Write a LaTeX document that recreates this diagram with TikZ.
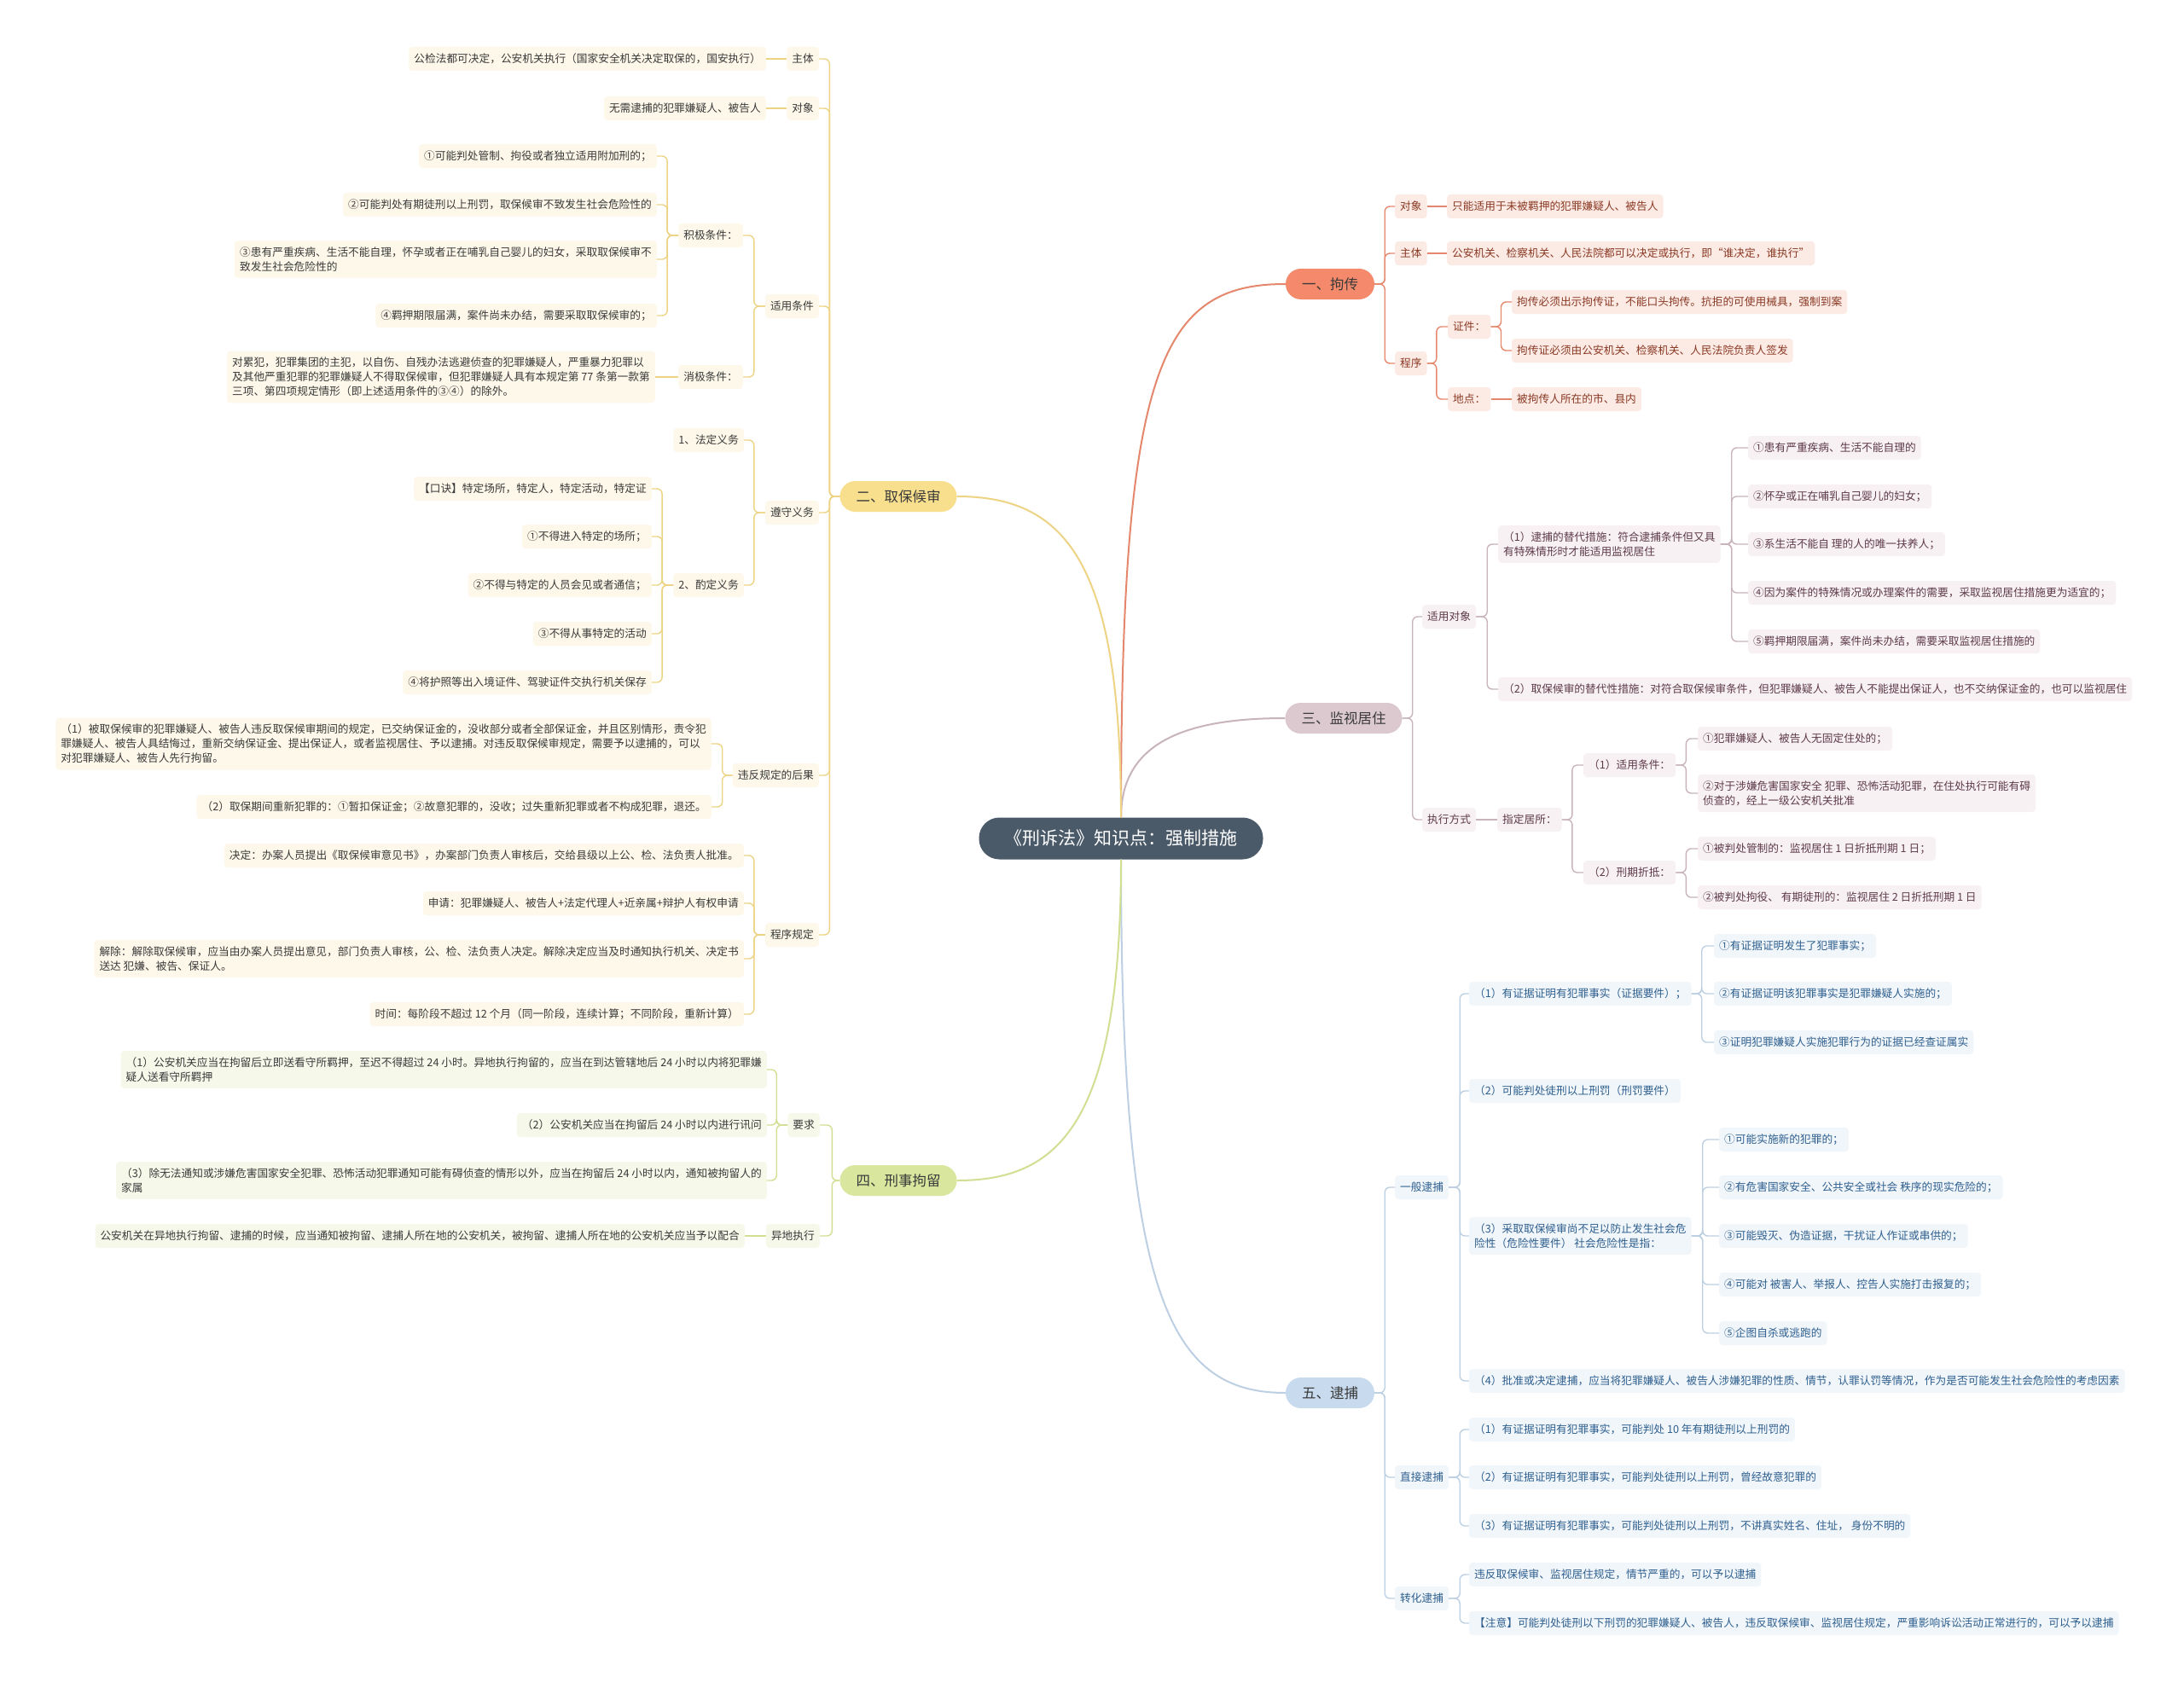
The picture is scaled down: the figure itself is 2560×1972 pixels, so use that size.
\documentclass[tikz,border=0pt]{standalone}
\usepackage{fontspec}
\newfontfamily\cjk{Noto Sans CJK SC}
\usepackage{tikz}

\definecolor{rootfill}{HTML}{4B5A69}
\definecolor{jcfill}{HTML}{F4896B}
\definecolor{jcline}{HTML}{E5876C}
\definecolor{jcleaf}{HTML}{FCEAE5}
\definecolor{jctext}{HTML}{8A3A24}
\definecolor{jsfill}{HTML}{DCC9CF}
\definecolor{jsline}{HTML}{C9B4BC}
\definecolor{jsleaf}{HTML}{F7F1F3}
\definecolor{jstext}{HTML}{5E3A4A}
\definecolor{dbfill}{HTML}{C8DBEE}
\definecolor{dbline}{HTML}{BDD0E3}
\definecolor{dbleaf}{HTML}{F1F6FB}
\definecolor{dbtext}{HTML}{2E5F8E}
\definecolor{qbfill}{HTML}{F8DF8E}
\definecolor{qbline}{HTML}{EDD484}
\definecolor{qbleaf}{HTML}{FDF8E9}
\definecolor{jlfill}{HTML}{D8E69E}
\definecolor{jlline}{HTML}{D0DF92}
\definecolor{jlleaf}{HTML}{F6F9EA}
\definecolor{leaftext}{HTML}{3A3A3A}

\tikzset{
	nodebase/.style={font=\cjk\fontsize{12.7}{17}\selectfont, rounded corners=4pt,
		inner xsep=6pt, inner ysep=7.5pt, minimum height=28pt, align=left},
	mainbase/.style={font=\cjk\fontsize{16.5}{20}\selectfont, rounded corners=18pt,
		inner xsep=19pt, minimum height=36pt, text=leaftext},
	jcbox/.style={nodebase, fill=jcleaf, text=jctext},
	jsbox/.style={nodebase, fill=jsleaf, text=jstext},
	dbbox/.style={nodebase, fill=dbleaf, text=dbtext},
	qbbox/.style={nodebase, fill=qbleaf, text=leaftext},
	jlbox/.style={nodebase, fill=jlleaf, text=leaftext},
	link/.style={line width=1.4pt, rounded corners=6pt},
	branch/.style={line width=2pt}
}

\begin{document}
\begin{tikzpicture}[x=1pt, y=-1pt]
	\fill[white] (0,0) rectangle (2560,1972);
	\useasboundingbox (0,0) rectangle (2560,1972);

	% root
	\node[font=\cjk\fontsize{21}{24}\selectfont, fill=rootfill, text=white,
		rounded corners=24pt, minimum height=49pt, inner xsep=30pt] (root) at (1314,983)
		{《刑诉法》知识点：强制措施};

	% main topics
	\node[mainbase, fill=jcfill] (jc) at (1559,333) {一、拘传};
	\node[mainbase, fill=jsfill] (js) at (1575,842) {三、监视居住};
	\node[mainbase, fill=dbfill] (db) at (1559,1633) {五、逮捕};
	\node[mainbase, fill=qbfill] (qb) at (1053,582) {二、取保候审};
	\node[mainbase, fill=jlfill] (jl) at (1053,1384) {四、刑事拘留};

	\draw[branch, jcline] (root.north) .. controls (1314,430) and (1360,333) .. (jc.west);
	\draw[branch, jsline] (root.north) .. controls (1314,870) and (1390,842) .. (js.west);
	\draw[branch, dbline] (root.south) .. controls (1314,1520) and (1370,1633) .. (db.west);
	\draw[branch, qbline] (root.north) .. controls (1314,660) and (1250,582) .. (qb.east);
	\draw[branch, jlline] (root.south) .. controls (1314,1320) and (1240,1384) .. (jl.east);

	% 一、拘传
	\node[jcbox, anchor=west] (jcdx) at (1635,242) {对象};
	\node[jcbox, anchor=west] (jczt) at (1635,297) {主体};
	\node[jcbox, anchor=west] (jccx) at (1635,426) {程序};
	\node[jcbox, anchor=west] (jcdxa) at (1696,242) {只能适用于未被羁押的犯罪嫌疑人、被告人};
	\node[jcbox, anchor=west] (jczta) at (1696,297) {公安机关、检察机关、人民法院都可以决定或执行，即“谁决定，谁执行”};
	\node[jcbox, anchor=west] (jczj) at (1697,383) {证件：};
	\node[jcbox, anchor=west] (jcdd) at (1697,468) {地点：};
	\node[jcbox, anchor=west] (jczja) at (1772,354) {拘传必须出示拘传证，不能口头拘传。抗拒的可使用械具，强制到案};
	\node[jcbox, anchor=west] (jczjb) at (1772,411) {拘传证必须由公安机关、检察机关、人民法院负责人签发};
	\node[jcbox, anchor=west] (jcdda) at (1772,468) {被拘传人所在的市、县内};

	\foreach \c in {jcdx,jczt,jccx}
		\draw[link, jcline] (jc.east) -- ++(12,0) |- (\c.west);
	\foreach \c in {jczj,jcdd}
		\draw[link, jcline] (jccx.east) -- ++(11,0) |- (\c.west);
	\foreach \c in {jczja,jczjb}
		\draw[link, jcline] (jczj.east) -- ++(12,0) |- (\c.west);
	\draw[link, jcline] (jcdx) -- (jcdxa);
	\draw[link, jcline] (jczt) -- (jczta);
	\draw[link, jcline] (jcdd) -- (jcdda);

	% 三、监视居住
	\node[jsbox, anchor=west] (jsdx) at (1667,723) {适用对象};
	\node[jsbox, anchor=west] (jsfs) at (1667,961) {执行方式};
	\node[jsbox, anchor=west] (jsdx1) at (1756,638) {（1）逮捕的替代措施：符合逮捕条件但又具\\有特殊情形时才能适用监视居住};
	\node[jsbox, anchor=west] (jsdx2) at (1756,808) {（2）取保候审的替代性措施：对符合取保候审条件，但犯罪嫌疑人、被告人不能提出保证人，也不交纳保证金的，也可以监视居住};
	\node[jsbox, anchor=west] (jsa1) at (2049,525) {①患有严重疾病、生活不能自理的};
	\node[jsbox, anchor=west] (jsa2) at (2049,582) {②怀孕或正在哺乳自己婴儿的妇女；};
	\node[jsbox, anchor=west] (jsa3) at (2049,638) {③系生活不能自 理的人的唯一扶养人；};
	\node[jsbox, anchor=west] (jsa4) at (2049,695) {④因为案件的特殊情况或办理案件的需要，采取监视居住措施更为适宜的；};
	\node[jsbox, anchor=west] (jsa5) at (2049,752) {⑤羁押期限届满，案件尚未办结，需要采取监视居住措施的};
	\node[jsbox, anchor=west] (jszd) at (1755,961) {指定居所：};
	\node[jsbox, anchor=west] (jstj) at (1856,897) {（1）适用条件：};
	\node[jsbox, anchor=west] (jszd2) at (1856,1023) {（2）刑期折抵：};
	\node[jsbox, anchor=west] (jstj1) at (1990,866) {①犯罪嫌疑人、被告人无固定住处的；};
	\node[jsbox, anchor=west] (jstj2) at (1990,930) {②对于涉嫌危害国家安全 犯罪、恐怖活动犯罪，在住处执行可能有碍\\侦查的，经上一级公安机关批准};
	\node[jsbox, anchor=west] (jszd21) at (1990,995) {①被判处管制的：监视居住 1 日折抵刑期 1 日；};
	\node[jsbox, anchor=west] (jszd22) at (1990,1052) {②被判处拘役、 有期徒刑的：监视居住 2 日折抵刑期 1 日};

	\foreach \c in {jsdx,jsfs}
		\draw[link, jsline] (js.east) -- ++(12,0) |- (\c.west);
	\foreach \c in {jsdx1,jsdx2}
		\draw[link, jsline] (jsdx.east) -- ++(13,0) |- (\c.west);
	\foreach \c in {jsa1,jsa2,jsa3,jsa4,jsa5}
		\draw[link, jsline] (jsdx1.east) -- ++(13,0) |- (\c.west);
	\draw[link, jsline] (jsfs) -- (jszd);
	\foreach \c in {jstj,jszd2}
		\draw[link, jsline] (jszd.east) -- ++(12,0) |- (\c.west);
	\foreach \c in {jstj1,jstj2}
		\draw[link, jsline] (jstj.east) -- ++(12,0) |- (\c.west);
	\foreach \c in {jszd21,jszd22}
		\draw[link, jsline] (jszd2.east) -- ++(12,0) |- (\c.west);

	% 五、逮捕
	\node[dbbox, anchor=west] (dbyb) at (1635,1392) {一般逮捕};
	\node[dbbox, anchor=west] (dbzj) at (1635,1732) {直接逮捕};
	\node[dbbox, anchor=west] (dbzh) at (1635,1874) {转化逮捕};
	\node[dbbox, anchor=west] (dby1) at (1722,1165) {（1）有证据证明有犯罪事实（证据要件）；};
	\node[dbbox, anchor=west] (dby2) at (1722,1279) {（2）可能判处徒刑以上刑罚（刑罚要件）};
	\node[dbbox, anchor=west] (dby3) at (1722,1449) {（3）采取取保候审尚不足以防止发生社会危\\险性（危险性要件） 社会危险性是指：};
	\node[dbbox, anchor=west] (dby4) at (1722,1619) {（4）批准或决定逮捕，应当将犯罪嫌疑人、被告人涉嫌犯罪的性质、情节，认罪认罚等情况，作为是否可能发生社会危险性的考虑因素};
	\node[dbbox, anchor=west] (dby1a) at (2009,1109) {①有证据证明发生了犯罪事实；};
	\node[dbbox, anchor=west] (dby1b) at (2009,1165) {②有证据证明该犯罪事实是犯罪嫌疑人实施的；};
	\node[dbbox, anchor=west] (dby1c) at (2009,1222) {③证明犯罪嫌疑人实施犯罪行为的证据已经查证属实};
	\node[dbbox, anchor=west] (dby3a) at (2015,1336) {①可能实施新的犯罪的；};
	\node[dbbox, anchor=west] (dby3b) at (2015,1392) {②有危害国家安全、公共安全或社会 秩序的现实危险的；};
	\node[dbbox, anchor=west] (dby3c) at (2015,1449) {③可能毁灭、伪造证据，干扰证人作证或串供的；};
	\node[dbbox, anchor=west] (dby3d) at (2015,1506) {④可能对 被害人、举报人、控告人实施打击报复的；};
	\node[dbbox, anchor=west] (dby3e) at (2015,1563) {⑤企图自杀或逃跑的};
	\node[dbbox, anchor=west] (dbzj1) at (1722,1676) {（1）有证据证明有犯罪事实，可能判处 10 年有期徒刑以上刑罚的};
	\node[dbbox, anchor=west] (dbzj2) at (1722,1732) {（2）有证据证明有犯罪事实，可能判处徒刑以上刑罚，曾经故意犯罪的};
	\node[dbbox, anchor=west] (dbzj3) at (1722,1789) {（3）有证据证明有犯罪事实，可能判处徒刑以上刑罚，不讲真实姓名、住址， 身份不明的};
	\node[dbbox, anchor=west] (dbzh1) at (1722,1846) {违反取保候审、监视居住规定，情节严重的，可以予以逮捕};
	\node[dbbox, anchor=west] (dbzh2) at (1722,1903) {【注意】可能判处徒刑以下刑罚的犯罪嫌疑人、被告人，违反取保候审、监视居住规定，严重影响诉讼活动正常进行的，可以予以逮捕};

	\foreach \c in {dbyb,dbzj,dbzh}
		\draw[link, dbline] (db.east) -- ++(12,0) |- (\c.west);
	\foreach \c in {dby1,dby2,dby3,dby4}
		\draw[link, dbline] (dbyb.east) -- ++(13,0) |- (\c.west);
	\foreach \c in {dby1a,dby1b,dby1c}
		\draw[link, dbline] (dby1.east) -- ++(12,0) |- (\c.west);
	\foreach \c in {dby3a,dby3b,dby3c,dby3d,dby3e}
		\draw[link, dbline] (dby3.east) -- ++(13,0) |- (\c.west);
	\foreach \c in {dbzj1,dbzj2,dbzj3}
		\draw[link, dbline] (dbzj.east) -- ++(13,0) |- (\c.west);
	\foreach \c in {dbzh1,dbzh2}
		\draw[link, dbline] (dbzh.east) -- ++(13,0) |- (\c.west);

	% 二、取保候审
	\node[qbbox, anchor=east] (qbzt) at (960,69) {主体};
	\node[qbbox, anchor=east] (qbdx) at (960,127) {对象};
	\node[qbbox, anchor=east] (qbtj) at (960,359) {适用条件};
	\node[qbbox, anchor=east] (qbzs) at (960,601) {遵守义务};
	\node[qbbox, anchor=east] (qbwf) at (960,909) {违反规定的后果};
	\node[qbbox, anchor=east] (qbcx) at (960,1096) {程序规定};
	\node[qbbox, anchor=east] (qbzta) at (898,69) {公检法都可决定，公安机关执行（国家安全机关决定取保的，国安执行）};
	\node[qbbox, anchor=east] (qbdxa) at (898,127) {无需逮捕的犯罪嫌疑人、被告人};
	\node[qbbox, anchor=east] (qbjj) at (871,276) {积极条件：};
	\node[qbbox, anchor=east] (qbxj) at (871,442) {消极条件：};
	\node[qbbox, anchor=east] (qbj1) at (770,183) {①可能判处管制、拘役或者独立适用附加刑的；};
	\node[qbbox, anchor=east] (qbj2) at (770,240) {②可能判处有期徒刑以上刑罚，取保候审不致发生社会危险性的};
	\node[qbbox, anchor=east] (qbj3) at (770,304) {③患有严重疾病、生活不能自理，怀孕或者正在哺乳自己婴儿的妇女，采取取保候审不\\致发生社会危险性的};
	\node[qbbox, anchor=east] (qbj4) at (770,370) {④羁押期限届满，案件尚未办结，需要采取取保候审的；};
	\node[qbbox, anchor=east] (qbxja) at (768,442) {对累犯，犯罪集团的主犯，以自伤、自残办法逃避侦查的犯罪嫌疑人，严重暴力犯罪以\\及其他严重犯罪的犯罪嫌疑人不得取保候审，但犯罪嫌疑人具有本规定第 77 条第一款第\\三项、第四项规定情形（即上述适用条件的③④）的除外。};
	\node[qbbox, anchor=east] (qbfd) at (872,516) {1、法定义务};
	\node[qbbox, anchor=east] (qbzd) at (872,686) {2、酌定义务};
	\node[qbbox, anchor=east] (qbz0) at (764,573) {【口诀】特定场所，特定人，特定活动，特定证};
	\node[qbbox, anchor=east] (qbz1) at (764,629) {①不得进入特定的场所；};
	\node[qbbox, anchor=east] (qbz2) at (764,686) {②不得与特定的人员会见或者通信；};
	\node[qbbox, anchor=east] (qbz3) at (764,743) {③不得从事特定的活动};
	\node[qbbox, anchor=east] (qbz4) at (764,800) {④将护照等出入境证件、驾驶证件交执行机关保存};
	\node[qbbox, anchor=east] (qbw1) at (834,872) {（1）被取保候审的犯罪嫌疑人、被告人违反取保候审期间的规定，已交纳保证金的，没收部分或者全部保证金，并且区别情形，责令犯\\罪嫌疑人、被告人具结悔过，重新交纳保证金、提出保证人，或者监视居住、予以逮捕。对违反取保候审规定，需要予以逮捕的，可以\\对犯罪嫌疑人、被告人先行拘留。};
	\node[qbbox, anchor=east] (qbw2) at (834,946) {（2）取保期间重新犯罪的：①暂扣保证金；②故意犯罪的，没收；过失重新犯罪或者不构成犯罪，退还。};
	\node[qbbox, anchor=east] (qbc1) at (872,1003) {决定：办案人员提出《取保候审意见书》，办案部门负责人审核后，交给县级以上公、检、法负责人批准。};
	\node[qbbox, anchor=east] (qbc2) at (872,1059) {申请：犯罪嫌疑人、被告人+法定代理人+近亲属+辩护人有权申请};
	\node[qbbox, anchor=east] (qbc3) at (872,1124) {解除：解除取保候审，应当由办案人员提出意见，部门负责人审核，公、检、法负责人决定。解除决定应当及时通知执行机关、决定书\\送达 犯嫌、被告、保证人。};
	\node[qbbox, anchor=east] (qbc4) at (872,1189) {时间：每阶段不超过 12 个月（同一阶段，连续计算；不同阶段，重新计算）};

	\foreach \c in {qbzt,qbdx,qbtj,qbzs,qbwf,qbcx}
		\draw[link, qbline] (qb.west) -- ++(-12,0) |- (\c.east);
	\draw[link, qbline] (qbzt) -- (qbzta);
	\draw[link, qbline] (qbdx) -- (qbdxa);
	\foreach \c in {qbjj,qbxj}
		\draw[link, qbline] (qbtj.west) -- ++(-13,0) |- (\c.east);
	\foreach \c in {qbj1,qbj2,qbj3,qbj4}
		\draw[link, qbline] (qbjj.west) -- ++(-13,0) |- (\c.east);
	\draw[link, qbline] (qbxj) -- (qbxja);
	\foreach \c in {qbfd,qbzd}
		\draw[link, qbline] (qbzs.west) -- ++(-13,0) |- (\c.east);
	\foreach \c in {qbz0,qbz1,qbz2,qbz3,qbz4}
		\draw[link, qbline] (qbzd.west) -- ++(-13,0) |- (\c.east);
	\foreach \c in {qbw1,qbw2}
		\draw[link, qbline] (qbwf.west) -- ++(-12,0) |- (\c.east);
	\foreach \c in {qbc1,qbc2,qbc3,qbc4}
		\draw[link, qbline] (qbcx.west) -- ++(-13,0) |- (\c.east);

	% 四、刑事拘留
	\node[jlbox, anchor=east] (jlyq) at (961,1319) {要求};
	\node[jlbox, anchor=east] (jlyd) at (961,1449) {异地执行};
	\node[jlbox, anchor=east] (jly1) at (899,1254) {（1）公安机关应当在拘留后立即送看守所羁押，至迟不得超过 24 小时。异地执行拘留的，应当在到达管辖地后 24 小时以内将犯罪嫌\\疑人送看守所羁押};
	\node[jlbox, anchor=east] (jly2) at (899,1319) {（2）公安机关应当在拘留后 24 小时以内进行讯问};
	\node[jlbox, anchor=east] (jly3) at (899,1384) {（3）除无法通知或涉嫌危害国家安全犯罪、恐怖活动犯罪通知可能有碍侦查的情形以外，应当在拘留后 24 小时以内，通知被拘留人的\\家属};
	\node[jlbox, anchor=east] (jlyda) at (873,1449) {公安机关在异地执行拘留、逮捕的时候，应当通知被拘留、逮捕人所在地的公安机关，被拘留、逮捕人所在地的公安机关应当予以配合};

	\foreach \c in {jlyq,jlyd}
		\draw[link, jlline] (jl.west) -- ++(-9,0) |- (\c.east);
	\foreach \c in {jly1,jly2,jly3}
		\draw[link, jlline] (jlyq.west) -- ++(-13,0) |- (\c.east);
	\draw[link, jlline] (jlyd) -- (jlyda);
\end{tikzpicture}
\end{document}
